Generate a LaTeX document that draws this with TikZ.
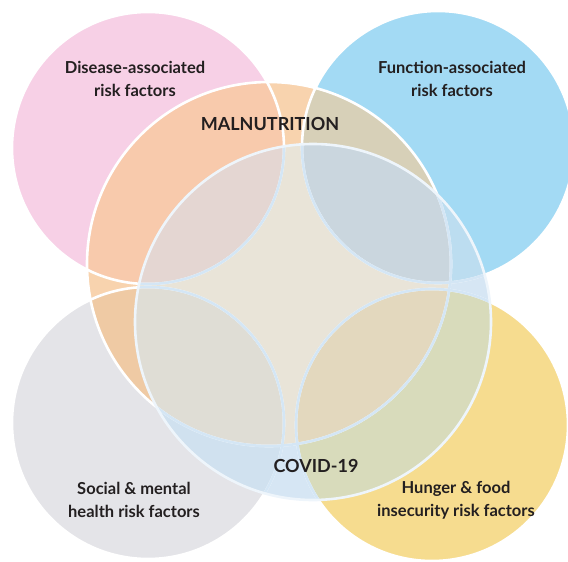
\documentclass[tikz,border=0pt]{standalone}
\usepackage{fontspec}
\setmainfont{Lato}
% Couleurs des cercles et de leurs intersections
\definecolor{encre}{HTML}{231F20}
\definecolor{rose}{HTML}{F7D0E6}
\definecolor{bleu}{HTML}{A3DAF4}
\definecolor{gris}{HTML}{E4E4E8}
\definecolor{jaune}{HTML}{F6DC8F}
\definecolor{malnut}{HTML}{F8D3AE}
\definecolor{virus}{HTML}{D6E6F4}
\definecolor{centre}{HTML}{E9E4D8}
\definecolor{roseM}{HTML}{F8CAAC}
\definecolor{roseC}{HTML}{DCD8EA}
\definecolor{roseMC}{HTML}{E4D6D2}
\definecolor{bleuM}{HTML}{D7D0B8}
\definecolor{bleuC}{HTML}{BCDDF0}
\definecolor{bleuMC}{HTML}{CAD6DE}
\definecolor{grisM}{HTML}{EFCAA4}
\definecolor{grisC}{HTML}{D0E1EF}
\definecolor{grisMC}{HTML}{DFDDD5}
\definecolor{jauneM}{HTML}{EBD3A0}
\definecolor{jauneC}{HTML}{D8DBBB}
\definecolor{jauneMC}{HTML}{E3D8BE}
\definecolor{liseré}{HTML}{D4E6F5}
\begin{document}
\begin{tikzpicture}[x=1pt,y=-1pt,
  etiquette/.style={font=\bfseries\fontsize{16.5}{22.5}\selectfont,text=encre,align=center},
  titre/.style={font=\bfseries\fontsize{18}{20}\selectfont,text=encre},
  bord/.style={draw=white,line width=2.6pt}]
\useasboundingbox (0,0) rectangle (568,562);
% Centres : quatre cercles de coin, puis les deux grands cercles
\coordinate (maladie) at (148,148);
\coordinate (fonction) at (438,147);
\coordinate (social) at (148,423);
\coordinate (faim) at (432,425);
\coordinate (M) at (269,264);
\coordinate (C) at (313,322);
\def\rc{136}
\def\rm{182}
\def\rv{178}
% Remplissages simples
\foreach \k/\c in {maladie/rose,fonction/bleu,social/gris,faim/jaune}
  \fill[\c] (\k) circle [radius=\rc] ;
\fill[malnut] (M) circle [radius=\rm] ;
\fill[virus] (C) circle [radius=\rv] ;
\begin{scope}
  \clip (M) circle [radius=\rm] ;
  \fill[centre] (C) circle [radius=\rv] ;
\end{scope}
% Intersections avec chaque cercle de coin
\foreach \k/\c in {maladie/rose,fonction/bleu,social/gris,faim/jaune}
{
  \begin{scope}
    \clip (\k) circle [radius=\rc] ;
    \fill[\c M] (M) circle [radius=\rm] ;
    \fill[\c C] (C) circle [radius=\rv] ;
    \clip (M) circle [radius=\rm] ;
    \fill[\c MC] (C) circle [radius=\rv] ;
  \end{scope}
}
% Liserés blancs, teintés dans le cercle COVID
\foreach \k in {maladie,fonction,social,faim}
  \draw[bord] (\k) circle [radius=\rc] ;
\draw[bord] (M) circle [radius=\rm] ;
\begin{scope}
  \clip (C) circle [radius=\rv] ;
  \foreach \k in {maladie,fonction,social,faim}
    \draw[bord,draw=liseré] (\k) circle [radius=\rc] ;
  \draw[bord,draw=liseré] (M) circle [radius=\rm] ;
\end{scope}
\draw[bord,draw=liseré!40] (C) circle [radius=\rv] ;
% Textes
\node[etiquette] (t-maladie) at (135,79) {Disease-associated\\risk factors} ;
\node[etiquette] (t-fonction) at (452,79) {Function-associated\\risk factors} ;
\node[etiquette] (t-social) at (134,500) {Social \& mental\\health risk factors} ;
\node[etiquette] (t-faim) at (456,500) {Hunger \& food\\insecurity risk factors} ;
\node[titre] (t-malnut) at (270,124) {MALNUTRITION} ;
\node[titre] (t-covid) at (316,466) {COVID-19} ;
\end{tikzpicture}
\end{document}
